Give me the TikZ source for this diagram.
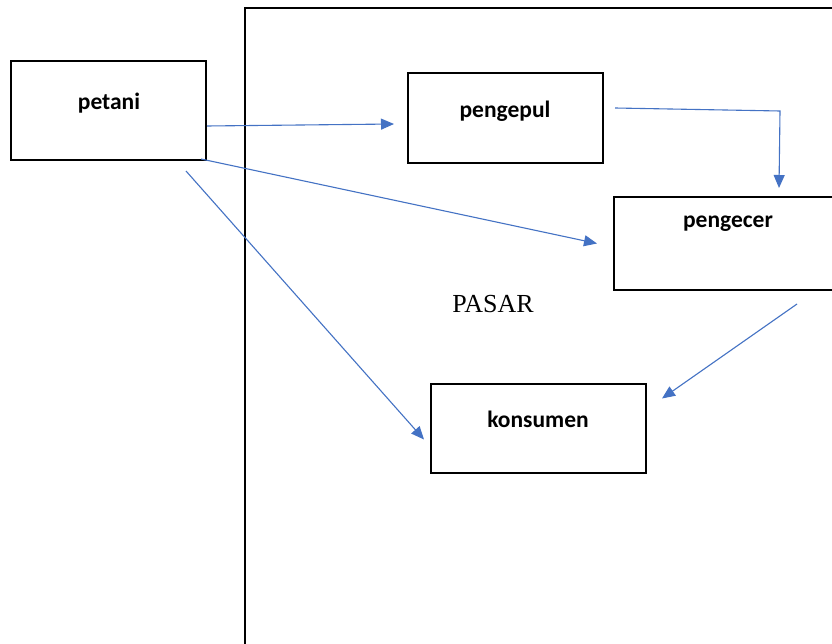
\documentclass[tikz,border=0pt]{standalone}
\usepackage{fontspec}
\setmainfont{Liberation Serif}
\newfontfamily\lblfont{Carlito}
\usetikzlibrary{arrows.meta}
\definecolor{arrowblue}{HTML}{4472C4}
\tikzset{
  box/.style={draw=black, line width=2pt, rectangle, inner sep=0pt},
  lbl/.style={font=\lblfont\bfseries\fontsize{23.5}{23.5}\selectfont, inner sep=0pt, anchor=base},
  flow/.style={draw=arrowblue, line width=1.1pt, -{Triangle[length=13pt,width=11pt]}}
}
\begin{document}
\begin{tikzpicture}[x=1pt,y=1pt]
\useasboundingbox (0,0) rectangle (832,-644);
\clip (0,0) rectangle (832,-644);
\fill[white] (0,0) rectangle (832,-644);
% market frame
\node[box, minimum width=595pt, minimum height=645pt] (frame) at (542.5,-330.5) {};
% boxes
\node[box, minimum width=195pt, minimum height=99pt] (petani) at (108.5,-110.5) {};
\node[box, minimum width=195pt, minimum height=90pt] (pengepul) at (505.5,-118) {};
\node[box, minimum width=228pt, minimum height=93pt] (pengecer) at (728,-243.5) {};
\node[box, minimum width=215pt, minimum height=89pt] (konsumen) at (538.5,-428.5) {};
% labels
\node[lbl] (petaniL) at (109,-110) {petani};
\node[lbl] (pengepulL) at (505,-118) {pengepul};
\node[lbl] (pengecerL) at (728,-228) {pengecer};
\node[lbl] (konsumenL) at (538,-427) {konsumen};
\node[font=\fontsize{26}{26}\selectfont, inner sep=0pt, anchor=base] (pasar) at (493,-312) {PASAR};
% connectors
\draw[flow] ([yshift=-15.5pt]petani.east) -- ([xshift=-13pt,yshift=-6pt]pengepul.west);
\draw[flow] ([xshift=-6pt,yshift=2pt]petani.south east) -- ([xshift=-16pt]pengecer.west);
\draw[flow] ([xshift=77.5pt,yshift=-10pt]petani.south) -- ([xshift=-6pt,yshift=-11pt]konsumen.west);
\draw[flow] ([xshift=11pt,yshift=10pt]pengepul.east) -- ++(165,-3) -- ([xshift=51pt,yshift=8pt]pengecer.north);
\draw[flow] ([xshift=69pt,yshift=-13pt]pengecer.south) -- ([xshift=15pt,yshift=30pt]konsumen.east);
\end{tikzpicture}
\end{document}
